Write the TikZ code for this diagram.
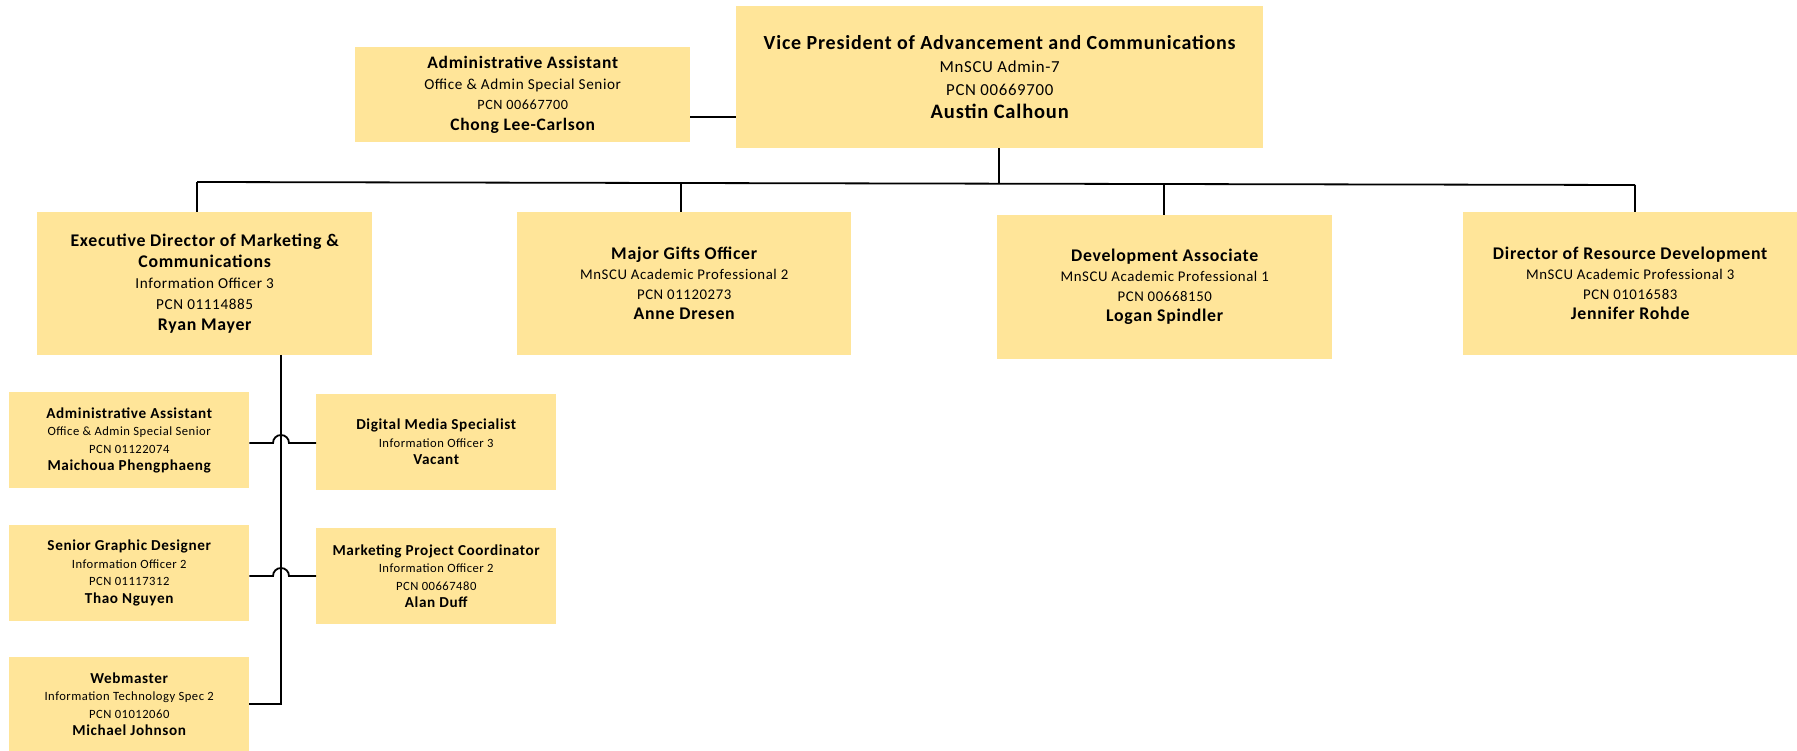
\documentclass[tikz,border=0pt]{standalone}
\usepackage{fontspec}
\setmainfont{Carlito}[LetterSpace=4]
\newcommand{\myfs}[2]{\fontsize{#1}{#2}\selectfont}
\definecolor{boxfill}{HTML}{FFE599}
\begin{document}
\begin{tikzpicture}[x=1pt,y=-1pt,
  box/.style={fill=boxfill, draw=none, inner sep=0pt, align=center, anchor=north west},
  conn/.style={draw=black, line width=1.8pt},
  bigbox/.style={box, font=\myfs{16.8}{23}},
  midbox/.style={box, font=\myfs{14.8}{20}},
  smallbox/.style={box, font=\myfs{12.6}{17.5}}]
\useasboundingbox (0,0) rectangle (1797,751);
% top level
\node[bigbox, minimum width=527pt, minimum height=142pt] (vp) at (736,6)
 {{\bfseries\myfs{20}{23}Vice President of Advancement and Communications}\\
  MnSCU Admin-7\\ PCN 00669700\\ {\bfseries\myfs{20.5}{23}Austin Calhoun}};
\node[box, font=\myfs{15.2}{20.5}, minimum width=335pt, minimum height=95pt] (aa1) at (355,47)
 {{\bfseries\myfs{17.5}{20.5}Administrative Assistant}\\
  Office \& Admin Special Senior\\ {\myfs{14.2}{20.5}PCN 00667700}\\ {\bfseries\myfs{17.5}{20.5}Chong Lee-Carlson}};
% second level
\node[midbox, font=\myfs{15.2}{21}, minimum width=335pt, minimum height=143pt] (exec) at (37,212)
 {{\bfseries\myfs{17.8}{21}Executive Director of Marketing \&}\\
  {\bfseries\myfs{17.8}{21}Communications}\\
  Information Officer 3\\ PCN 01114885\\ {\bfseries\myfs{17.8}{21}Ryan Mayer}};
\node[midbox, minimum width=334pt, minimum height=143pt] (mgo) at (517,212)
 {{\bfseries\myfs{17.8}{20}Major Gifts Officer}\\
  MnSCU Academic Professional 2\\ PCN 01120273\\ {\bfseries\myfs{17.8}{20}Anne Dresen}};
\node[midbox, minimum width=335pt, minimum height=144pt] (dev) at (997,215)
 {{\bfseries\myfs{17.8}{20}Development Associate}\\
  MnSCU Academic Professional 1\\ PCN 00668150\\ {\bfseries\myfs{17.8}{20}Logan Spindler}};
\node[midbox, minimum width=334pt, minimum height=143pt] (dir) at (1463,212)
 {{\bfseries\myfs{17.8}{20}Director of Resource Development}\\
  MnSCU Academic Professional 3\\ PCN 01016583\\ {\bfseries\myfs{17.8}{20}Jennifer Rohde}};
% third level
\node[smallbox, minimum width=240pt, minimum height=96pt] (aa2) at (9,392)
 {{\bfseries\myfs{15.2}{17.5}Administrative Assistant}\\
  Office \& Admin Special Senior\\ PCN 01122074\\ {\bfseries\myfs{15.2}{17.5}Maichoua Phengphaeng}};
\node[smallbox, minimum width=240pt, minimum height=96pt] (sgd) at (9,525)
 {{\bfseries\myfs{15.2}{17.5}Senior Graphic Designer}\\
  Information Officer 2\\ PCN 01117312\\ {\bfseries\myfs{15.2}{17.5}Thao Nguyen}};
\node[smallbox, minimum width=240pt, minimum height=94pt] (web) at (9,657)
 {{\bfseries\myfs{15.2}{17.5}Webmaster}\\
  Information Technology Spec 2\\ PCN 01012060\\ {\bfseries\myfs{15.2}{17.5}Michael Johnson}};
\node[smallbox, minimum width=240pt, minimum height=96pt] (dms) at (316,394)
 {{\bfseries\myfs{15.2}{17.5}Digital Media Specialist}\\
  Information Officer 3\\ {\bfseries\myfs{15.2}{17.5}Vacant}};
\node[smallbox, minimum width=240pt, minimum height=96pt] (mpc) at (316,528)
 {{\bfseries\myfs{15.2}{17.5}Marketing Project Coordinator}\\
  Information Officer 2\\ PCN 00667480\\ {\bfseries\myfs{15.2}{17.5}Alan Duff}};
% connectors
\coordinate (busL) at (197,182);
\coordinate (busR) at (1635,185);
\coordinate (busM) at (681,183);
\coordinate (busV) at (999,184);
\coordinate (busD) at (1164,184);
\coordinate (spineT) at (281,355);
\draw[conn] (aa1.east |- 0,117) -- (vp.west |- 0,117);
\draw[conn] (vp.south -| busV) -- (busV);
\draw[conn] (busL) -- (busR);
\draw[conn] (busL) -- (busL |- exec.north);
\draw[conn] (busM) -- (busM |- mgo.north);
\draw[conn] (busD) -- (busD |- dev.north);
\draw[conn] (busR) -- (busR |- dir.north);
\draw[conn] (spineT) -- (spineT |- web.east) -- (web.east);
\draw[conn] (aa2.east |- 0,443) -- (273,443) arc[start angle=180, end angle=0, radius=8pt] -- (dms.west |- 0,443);
\draw[conn] (sgd.east |- 0,576) -- (273,576) arc[start angle=180, end angle=0, radius=8pt] -- (mpc.west |- 0,576);
\end{tikzpicture}
\end{document}
